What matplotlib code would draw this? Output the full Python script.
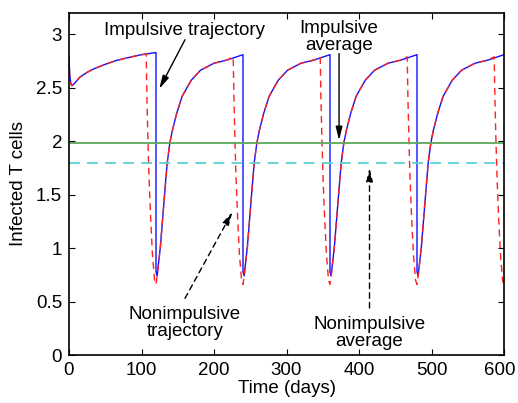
import numpy as np
import matplotlib.pyplot as plt
import matplotlib.transforms as mtransforms

# impulsive trajectory (blue, solid)
blue_t = [0, 1, 2.5, 4, 6, 10, 15, 25, 35, 50, 65, 80, 100, 120,
          120, 121.5, 123.5, 126, 133.5, 135.5, 139, 142.5, 148.5, 156, 168.5, 181.5, 200, 218, 240,
          240, 241.5, 243.5, 246, 253.5, 255.5, 259, 262.5, 268.5, 276, 288.5, 301.5, 320, 338, 360,
          360, 361.5, 363.5, 366, 373.5, 375.5, 379, 382.5, 388.5, 396, 408.5, 421.5, 440, 458, 480,
          480, 481.5, 483.5, 486, 493.5, 495.5, 499, 502.5, 508.5, 516, 528.5, 541.5, 560, 578, 600]
blue_v = [2.78, 2.62, 2.54, 2.52, 2.53, 2.56, 2.60, 2.645, 2.68, 2.72, 2.755, 2.78, 2.81, 2.83,
          0.78, 0.74, 0.86, 1.01, 1.64, 1.80, 1.98, 2.10, 2.26, 2.42, 2.57, 2.665, 2.73, 2.76, 2.81,
          0.78, 0.74, 0.86, 1.01, 1.64, 1.80, 1.98, 2.10, 2.26, 2.42, 2.57, 2.665, 2.73, 2.76, 2.81,
          0.78, 0.74, 0.86, 1.01, 1.64, 1.80, 1.98, 2.10, 2.26, 2.42, 2.57, 2.665, 2.73, 2.76, 2.81,
          0.78, 0.74, 0.86, 1.01, 1.64, 1.80, 1.98, 2.10, 2.26, 2.42, 2.57, 2.665, 2.73, 2.76, 2.81]

# nonimpulsive trajectory (red, dashed)
red_t = [0, 1, 2.5, 4, 6, 10, 15, 25, 35, 50, 65, 80, 100, 106.5,
         107.5, 109, 110.5, 112.5, 115, 118, 120, 122, 126, 133.5, 135.5, 139, 142.5, 148.5, 156,
         168.5, 181.5, 200, 218, 226.5,
         227.5, 229, 230.5, 232.5, 235, 238, 240, 242, 246, 253.5, 255.5, 259, 262.5, 268.5, 276,
         288.5, 301.5, 320, 338, 346.5,
         347.5, 349, 350.5, 352.5, 355, 358, 360, 362, 366, 373.5, 375.5, 379, 382.5, 388.5, 396,
         408.5, 421.5, 440, 458, 466.5,
         467.5, 469, 470.5, 472.5, 475, 478, 480, 482, 486, 493.5, 495.5, 499, 502.5, 508.5, 516,
         528.5, 541.5, 560, 578, 586.5,
         587.5, 589, 590.5, 592.5, 595, 598, 600]
red_v = [2.78, 2.62, 2.54, 2.52, 2.53, 2.56, 2.60, 2.645, 2.68, 2.72, 2.755, 2.78, 2.81, 2.815,
         2.40, 1.98, 1.64, 1.30, 0.95, 0.70, 0.66, 0.76, 1.01, 1.64, 1.80, 1.98, 2.10, 2.26, 2.42,
         2.57, 2.665, 2.73, 2.76, 2.79,
         2.40, 1.98, 1.64, 1.30, 0.95, 0.70, 0.66, 0.76, 1.01, 1.64, 1.80, 1.98, 2.10, 2.26, 2.42,
         2.57, 2.665, 2.73, 2.76, 2.79,
         2.40, 1.98, 1.64, 1.30, 0.95, 0.70, 0.66, 0.76, 1.01, 1.64, 1.80, 1.98, 2.10, 2.26, 2.42,
         2.57, 2.665, 2.73, 2.76, 2.79,
         2.40, 1.98, 1.64, 1.30, 0.95, 0.70, 0.66, 0.76, 1.01, 1.64, 1.80, 1.98, 2.10, 2.26, 2.42,
         2.57, 2.665, 2.73, 2.76, 2.79,
         2.40, 1.98, 1.64, 1.30, 0.95, 0.70, 0.66]

impulsive_avg = 1.98
nonimpulsive_avg = 1.80

x_ticks = [0, 100, 200, 300, 400, 500, 600]
y_ticks = [0, 0.5, 1, 1.5, 2, 2.5, 3]
y_tick_labels = ['0', '0.5', '1', '1.5', '2', '2.5', '3']

plt.rcParams['font.family'] = ['Liberation Sans', 'DejaVu Sans']

fig = plt.figure(figsize=(5.18, 4.03), dpi=100)
ax = fig.add_axes([69 / 518, 48 / 403, 435 / 518, 342 / 403])

ax.plot(blue_t, blue_v, color='#1010ff', lw=1.0)
ax.plot(red_t, red_v, color='#ff2020', lw=1.0, dashes=(5, 3.5))
ax.axhline(impulsive_avg, color='#5aa85a', lw=1.3)
ax.axhline(nonimpulsive_avg, color='#5cd0d0', lw=1.3, dashes=(6, 4))

ax.set_xlim(0, 600)
ax.set_ylim(0, 3.2)
ax.set_xticks(x_ticks)
ax.set_yticks(y_ticks)
ax.set_yticklabels(y_tick_labels)
ax.tick_params(direction='in', top=True, right=True, length=4, width=0.8,
               labelsize=13.5, pad=5)
for s in ax.spines.values():
    s.set_linewidth(1.2)

# keep the last x tick label inside the figure
last = ax.get_xticklabels()[-1]
last.set_transform(last.get_transform() +
                   mtransforms.ScaledTranslation(-4 / 100, 0, fig.dpi_scale_trans))

ax.set_xlabel('Time (days)', fontsize=13.5, labelpad=1)
ax.set_ylabel('Infected T cells', fontsize=13.5, labelpad=6)

solid = dict(arrowstyle='-|>,head_length=0.8,head_width=0.2', color='black', lw=1.0,
             shrinkA=0, shrinkB=0)
dashed = dict(solid, linestyle=(0, (4, 3)))

ax.text(160, 3.04, 'Impulsive trajectory', ha='center', va='center', fontsize=13.5)
ax.annotate('', xy=(124.5, 2.49), xytext=(160, 2.95), arrowprops=solid)
ax.text(372.5, 2.98, 'Impulsive\naverage', ha='center', va='center', fontsize=13.5,
        linespacing=1.0)
ax.annotate('', xy=(372.5, 2.01), xytext=(372.5, 2.82), arrowprops=solid)
ax.text(160, 0.30, 'Nonimpulsive\ntrajectory', ha='center', va='center', fontsize=13.5,
        linespacing=1.0)
ax.annotate('', xy=(225.5, 1.34), xytext=(160, 0.53), arrowprops=dashed)
ax.text(414.5, 0.21, 'Nonimpulsive\naverage', ha='center', va='center', fontsize=13.5,
        linespacing=1.0)
ax.annotate('', xy=(414.5, 1.75), xytext=(414.5, 0.44), arrowprops=dashed)

fig.savefig('out.png', dpi=100)
